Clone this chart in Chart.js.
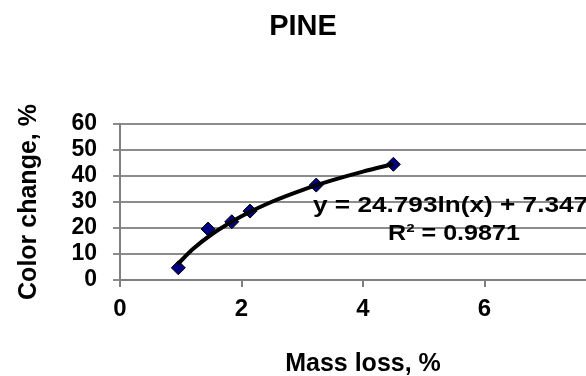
<!DOCTYPE html>
<html>
<head>
<meta charset="utf-8">
<script src="https://cdn.jsdelivr.net/npm/chart.js@4"></script>
<style>
  html, body { margin: 0; padding: 0; overflow: hidden; background: #ffffff; width: 586px; height: 376px; }
  #wrap { width: 624px; height: 376px; }
</style>
</head>
<body>
<div id="wrap"><canvas id="c" width="624" height="376"></canvas></div>
<script>
// Data
const massLoss = [0.96, 1.45, 1.84, 2.14, 3.23, 4.50];
const colorChange = [4.7, 19.6, 22.4, 26.5, 36.5, 44.5];
// Trendline
const trendX = [0.95, 1.2, 1.5, 2.0, 2.5, 3.0, 3.5, 4.0, 4.5];
const trendY = [6.1, 11.9, 17.4, 24.5, 30.1, 34.6, 38.4, 41.7, 44.6];
const xTicks = [0, 2, 4, 6, 8];
const yTicks = [0, 10, 20, 30, 40, 50, 60];
const chartTitle = 'PINE';
const xTitle = 'Mass loss, %';
const yTitle = 'Color change, %';
const eqText = 'y = 24.793ln(x) + 7.347';
const r2Text = 'R\u00B2 = 0.9871';

const FONT = '"Liberation Sans", Arial, sans-serif';

const scatterPoints = massLoss.map((x, i) => ({ x: x, y: colorChange[i] }));
const trendPoints = trendX.map((x, i) => ({ x: x, y: trendY[i] }));

const eqPlugin = {
  id: 'eqLabel',
  afterDatasetsDraw(chart) {
    const ctx = chart.ctx;
    ctx.save();
    ctx.fillStyle = '#000000';
    ctx.font = 'bold 22px ' + FONT;
    ctx.textBaseline = 'alphabetic';
    ctx.textAlign = 'left';
    ctx.save();
    ctx.translate(313, 212);
    ctx.scale(1.19, 1);
    ctx.fillText(eqText, 0, 0);
    ctx.restore();
    ctx.save();
    ctx.translate(454, 240);
    ctx.scale(1.14, 1);
    ctx.textAlign = 'center';
    ctx.fillText(r2Text, 0, 0);
    ctx.restore();
    ctx.restore();
  }
};

new Chart(document.getElementById('c'), {
  type: 'scatter',
  data: {
    datasets: [
      {
        label: 'trend',
        data: trendPoints,
        showLine: true,
        borderColor: '#000000',
        borderWidth: 4,
        pointRadius: 0,
        tension: 0.4,
        cubicInterpolationMode: 'monotone',
        fill: false
      },
      {
        label: 'PINE',
        data: scatterPoints,
        pointStyle: 'rectRot',
        pointRadius: 7,
        pointBackgroundColor: '#000080',
        pointBorderColor: '#000000',
        pointBorderWidth: 1
      }
    ]
  },
  options: {
    responsive: false,
    animation: false,
    devicePixelRatio: 1,
    layout: { padding: { left: 0, right: 18, top: 0, bottom: 0 } },
    plugins: {
      legend: { display: false },
      tooltip: { enabled: false },
      title: {
        display: true,
        text: chartTitle,
        color: '#000000',
        font: { family: FONT, size: 29, weight: 'bold' },
        padding: { top: 10, bottom: 79.2 }
      }
    },
    scales: {
      x: {
        type: 'linear',
        min: 0,
        max: 8,
        afterFit(scale) { scale.height = 96; },
        afterBuildTicks(scale) { scale.ticks = xTicks.map(v => ({ value: v })); },
        ticks: {
          color: '#000000',
          font: { family: FONT, size: 24, weight: 'bold' },
          padding: 8,
          maxRotation: 0,
          autoSkip: false
        },
        grid: {
          drawOnChartArea: false,
          drawTicks: true,
          tickLength: 7,
          color: '#808080',
          lineWidth: 2
        },
        border: { color: '#808080', width: 2 },
        title: {
          display: true,
          text: xTitle,
          color: '#000000',
          font: { family: FONT, size: 25, weight: 'bold' },
          padding: { top: 0, bottom: -3 }
        }
      },
      y: {
        type: 'linear',
        min: 0,
        max: 60,
        afterFit(scale) { scale.width = 120; },
        afterBuildTicks(scale) { scale.ticks = yTicks.map(v => ({ value: v })); },
        ticks: {
          color: '#000000',
          font: { family: FONT, size: 23, weight: 'bold' },
          padding: 16,
          autoSkip: false
        },
        grid: {
          drawOnChartArea: true,
          drawTicks: true,
          tickLength: 7,
          color: '#8c8c8c',
          lineWidth: 2
        },
        border: { color: '#808080', width: 2 },
        title: {
          display: true,
          text: yTitle,
          color: '#000000',
          font: { family: FONT, size: 25, weight: 'bold' },
          padding: { top: 14, bottom: 0 }
        }
      }
    }
  },
  plugins: [eqPlugin]
});
</script>
</body>
</html>
